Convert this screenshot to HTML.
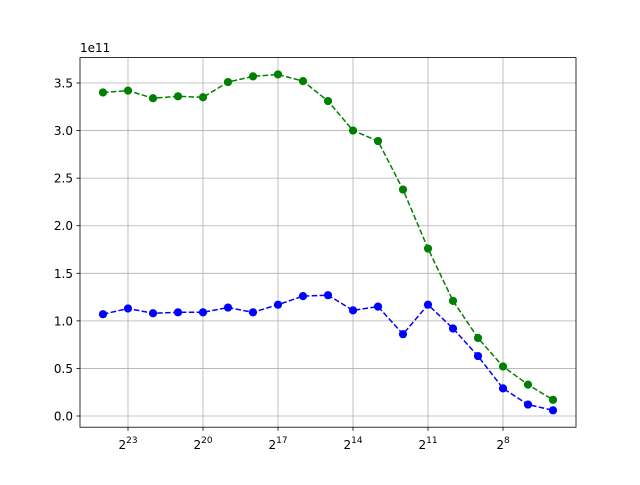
<!DOCTYPE html>
<html><head><meta charset="utf-8"><style>
body{margin:0;background:#fff}
svg text{font-family:"DejaVu Sans","Liberation Sans",sans-serif;font-size:12px;fill:#000}
</style></head><body>
<svg id="chart" width="640" height="480" xmlns="http://www.w3.org/2000/svg">
<rect x="0" y="0" width="640" height="480" fill="#fff"/>
<g id="grid"></g><g id="ticks"></g><g id="series"></g>
<rect x="80" y="57.6" width="496" height="369.6" fill="none" stroke="#000" stroke-width="0.8"/>
<text x="80" y="52">1e11</text>
</svg>
<script>
const exponents=[24,23,22,21,20,19,18,17,16,15,14,13,12,11,10,9,8,7,6];
const greenValues=[3.40,3.42,3.34,3.36,3.35,3.51,3.57,3.59,3.52,3.31,3.00,2.89,2.38,1.76,1.21,0.82,0.52,0.33,0.17];
const blueValues=[1.07,1.13,1.08,1.09,1.09,1.14,1.09,1.17,1.26,1.27,1.11,1.15,0.86,1.17,0.92,0.63,0.29,0.12,0.06];
const xTickExps=[23,20,17,14,11,8];
const yTicks=[0,0.5,1.0,1.5,2.0,2.5,3.0,3.5];
const NS='http://www.w3.org/2000/svg';
function xs(e){return 128+(23-e)*25;}
function ys(v){return 416-v*95.14;}
function mk(tag,attrs,parent){const el=document.createElementNS(NS,tag);for(const k in attrs)el.setAttribute(k,attrs[k]);parent.appendChild(el);return el;}
const grid=document.getElementById('grid'),ticks=document.getElementById('ticks'),series=document.getElementById('series');
xTickExps.forEach(e=>{const x=xs(e);
 const g=mk('line',{x1:x,x2:x,y1:57.6,y2:427.2,stroke:'#b0b0b0','stroke-width':0.8},grid);
 
 
 mk('line',{x1:x,x2:x,y1:427.2,y2:430.7,stroke:'#000','stroke-width':0.8},ticks);
 const t=mk('text',{x:x,y:449,'text-anchor':'middle'},ticks);
 
 
 t.textContent='2';
 const s=mk('tspan',{dy:-6,'font-size':'9px'},t);s.textContent=String(e);
});
yTicks.forEach(v=>{const y=ys(v);
 const g=mk('line',{x1:80,x2:576,y1:y,y2:y,stroke:'#b0b0b0','stroke-width':0.8},grid);
 
 
 mk('line',{x1:76.5,x2:80,y1:y,y2:y,stroke:'#000','stroke-width':0.8},ticks);
 const t=mk('text',{x:73,y:y+4.5,'text-anchor':'end'},ticks);
 
 
 t.textContent=v.toFixed(1);
});
function drawSeries(vals,color,name){
 const pts=vals.map((v,i)=>xs(exponents[i])+','+ys(v)).join(' ');
 const l=mk('polyline',{points:pts,fill:'none',stroke:color,'stroke-width':1.5,'stroke-dasharray':'5.5,2.4'},series);
 
 
 vals.forEach((v,i)=>{const c=mk('circle',{cx:xs(exponents[i]),cy:ys(v),r:4.1,fill:color},series);
  
  });
}
drawSeries(greenValues,'#008000','green-series');
drawSeries(blueValues,'#0000ff','blue-series');
</script>
</body></html>
